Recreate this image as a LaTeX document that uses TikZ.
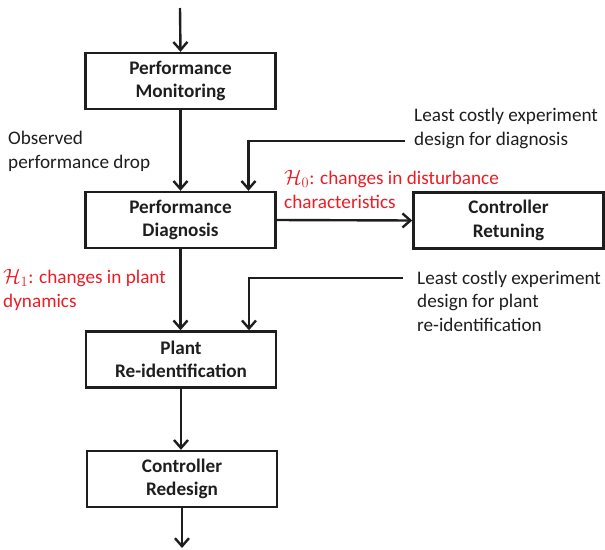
\documentclass[tikz,border=0pt]{standalone}
\usepackage{fontspec}
\setmainfont{Carlito}
\usetikzlibrary{arrows.meta}
\definecolor{hred}{RGB}{236,28,36}
\definecolor{ink}{RGB}{30,30,30}
\tikzset{
  blk/.style={draw=ink, line width=2.4pt, minimum width=190pt, minimum height=56pt, align=center, font=\fontsize{19.2}{23.5}\selectfont\bfseries, text=ink, inner sep=0pt},
  arr/.style={draw=ink, line width=2.4pt, -{Straight Barb[length=8pt,width=14pt,line width=2.4pt]}},
  txt/.style={align=left, anchor=base west, font=\fontsize{19.2}{23.5}\selectfont, text=ink, inner sep=0pt},
  htxt/.style={txt, text=hred}
}
\begin{document}
\begin{tikzpicture}[x=1pt,y=-1pt]
\useasboundingbox (0,0) rectangle (605,549);
\node[blk] (mon) at (180.5,81) {Performance\\Monitoring};
\node[blk] (dia) at (180.5,220) {Performance\\Diagnosis};
\node[blk] (ret) at (508.5,220.5) {Controller\\Retuning};
\node[blk] (pid) at (181,359.5) {Plant\\Re-identification};
\node[blk] (red) at (182,479) {Controller\\Redesign};
\coordinate (top) at (180,8);
\coordinate (bot) at (182,548);
\coordinate (d1) at (405,141);
\coordinate (d2) at (403,278);

\draw[arr] (top) -- (mon.north);
\draw[arr] (mon.south) -- (dia.north);
\draw[arr] (dia.east) -- (ret.west);
\draw[arr] (dia.south) -- (dia.south |- pid.north);
\draw[arr] (pid.south) -- (pid.south |- red.north);
\draw[arr] (red.south) -- (bot);
\draw[arr] (d1) -| ([xshift=68pt]dia.north);
\draw[arr] (d2) -| ([xshift=68pt]pid.north);

\node[txt] (t1) at (8,168) {Observed\\performance drop};
\node[txt] (t2) at (414,145) {Least costly experiment\\design for diagnosis};
\node[txt] (t3) at (417,331) {Least costly experiment\\design for plant\\re-identification};
\node[htxt] (h0) at (284,208) {$\mathcal{H}_0$: changes in disturbance\\characteristics};
\node[htxt] (h1) at (3,307) {$\mathcal{H}_1$: changes in plant\\dynamics};
\end{tikzpicture}
\end{document}
